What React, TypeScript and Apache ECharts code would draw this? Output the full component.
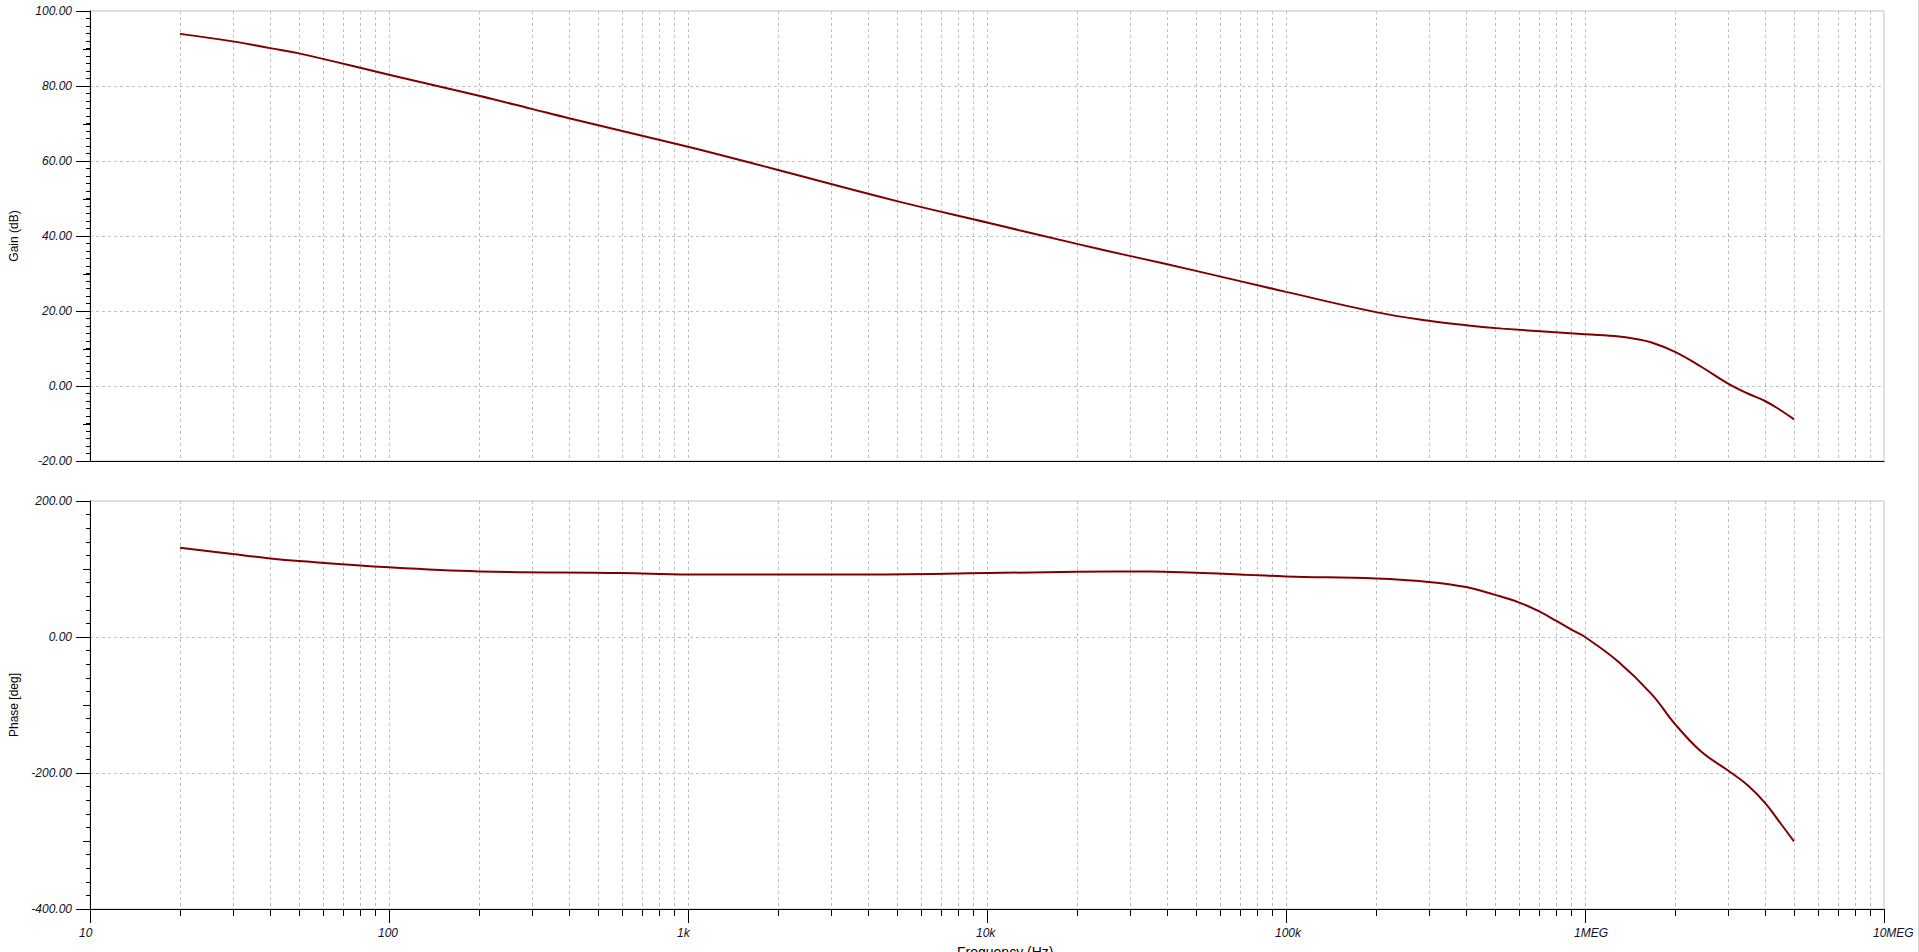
import React, { useEffect, useRef } from "react";
import * as echarts from "echarts";

// ---- data ----
const gainFreq = [20, 30, 40, 50, 100, 200, 300, 400, 1000, 2000, 5000, 10000, 20000, 30000, 50000, 100000, 200000, 300000, 400000, 530000, 1000000, 1300000, 1460000, 1670000, 2000000, 2440000, 3000000, 3500000, 4000000, 4500000, 5000000];
const gainDb = [93.9, 91.9, 90.1, 88.7, 83.0, 77.4, 73.9, 71.4, 63.8, 57.6, 49.3, 43.6, 37.9, 34.7, 30.7, 25.1, 19.7, 17.4, 16.2, 15.3, 13.8, 13.2, 12.6, 11.6, 9.1, 5.2, 0.7, -2.0, -4.0, -6.4, -8.9];

const phaseFreq = [20, 30, 40, 50, 100, 200, 600, 1000, 3600, 10000, 20000, 35000, 50000, 70000, 100000, 200000, 300000, 400000, 500000, 600000, 700000, 800000, 900000, 1000000, 1290000, 1670000, 2000000, 2440000, 3000000, 3500000, 4000000, 4500000, 5000000];
const phaseDeg = [131.3, 122, 115.6, 111.7, 102.4, 96.5, 94.1, 92, 92, 94, 96, 96.5, 94.5, 92, 89, 86, 81, 73.5, 62, 51, 38, 24, 11, 0, -36, -84, -128, -168, -196, -218, -244, -273.5, -300.6];

// tick labels of the frequency axis
const freqTickLabels: Record<number, string> = { 1: "10", 2: "100", 3: "1k", 4: "10k", 5: "100k", 6: "1MEG", 7: "10MEG" };
// minor (sub-decade) grid positions
const decades = [10, 100, 1000, 10000, 100000, 1000000];
const multipliers = [2, 3, 4, 5, 6, 7, 8, 9];
const minorFreqs: number[] = [];
decades.forEach((d) => multipliers.forEach((m) => minorFreqs.push(d * m)));

// mid-length ticks on the value axes
const gainMidTicks = [90, 70, 50, 30, 10, -10];
const phaseMidTicks = [100, -100, -300];

const GRID_COLOR = "#c0c0c0";
const CURVE_COLOR = "#800000";
const FONT = '"Liberation Sans", Arial, sans-serif';

function vGridSeries(idx: number, withTicks: boolean) {
  return {
    type: "custom",
    xAxisIndex: idx,
    yAxisIndex: idx,
    silent: true,
    clip: false,
    z: 1,
    data: minorFreqs.map((f) => [f, 0]),
    encode: { x: 0, y: 1 },
    renderItem: (params: any, api: any) => {
      const cs = params.coordSys;
      const x = Math.round(api.coord([api.value(0), 0])[0]) + 0.5;
      const children: any[] = [
        {
          type: "line",
          shape: { x1: x, y1: cs.y, x2: x, y2: cs.y + cs.height },
          style: { stroke: GRID_COLOR, lineWidth: 1, lineDash: [3, 3] },
        },
      ];
      if (withTicks) {
        children.push({
          type: "line",
          shape: { x1: x, y1: cs.y + cs.height, x2: x, y2: cs.y + cs.height + 7 },
          style: { stroke: "#000", lineWidth: 1 },
        });
      }
      return { type: "group", children };
    },
  };
}

function midTickSeries(idx: number, values: number[]) {
  return {
    type: "custom",
    xAxisIndex: idx,
    yAxisIndex: idx,
    silent: true,
    clip: false,
    z: 5,
    data: values.map((v) => [10, v]),
    encode: { x: 0, y: 1 },
    renderItem: (params: any, api: any) => {
      const cs = params.coordSys;
      const y = Math.round(api.coord([10, api.value(1)])[1]) + 0.5;
      return {
        type: "line",
        shape: { x1: cs.x - 7, y1: y, x2: cs.x, y2: y },
        style: { stroke: "#000", lineWidth: 1 },
      };
    },
  };
}

function yAxisCfg(idx: number, min: number, max: number, interval: number, name: string) {
  return {
    type: "value",
    gridIndex: idx,
    min,
    max,
    interval,
    name,
    nameLocation: "middle",
    nameGap: 70,
    nameTextStyle: { fontFamily: FONT, fontSize: 12, color: "#000" },
    axisLine: { show: true, lineStyle: { color: "#000", width: 1 } },
    axisTick: { show: true, length: 14, lineStyle: { color: "#000" } },
    minorTick: { show: true, splitNumber: 10, length: 4, lineStyle: { color: "#000" } },
    axisLabel: {
      formatter: (v: number) => v.toFixed(2),
      fontFamily: FONT,
      fontStyle: "italic",
      fontSize: 12,
      color: "#10102a",
      margin: 18,
    },
    splitLine: {
      show: true,
      showMinLine: false,
      showMaxLine: false,
      lineStyle: { color: GRID_COLOR, type: [3, 3], width: 1 },
    },
  };
}

function xAxisCfg(idx: number, withLabels: boolean) {
  return {
    type: "log",
    logBase: 10,
    gridIndex: idx,
    min: 10,
    max: 10000000,
    splitNumber: 6,
    axisLine: { show: true, onZero: false, lineStyle: { color: "#000", width: 1 } },
    axisTick: { show: withLabels, length: 14, lineStyle: { color: "#000" } },
    axisLabel: {
      show: withLabels,
      showMinLabel: true,
      showMaxLabel: true,
      formatter: (v: number) => freqTickLabels[Math.round(Math.log10(v))] || "",
      fontFamily: FONT,
      fontStyle: "italic",
      fontSize: 12,
      color: "#10102a",
      margin: 18,
      align: "left",
      padding: [0, 0, 0, -11],
    },
    splitLine: {
      show: true,
      showMinLine: false,
      showMaxLine: false,
      lineStyle: { color: GRID_COLOR, type: [3, 3], width: 1 },
    },
  };
}

export default function App() {
  const ref = useRef<HTMLDivElement>(null);
  useEffect(() => {
    if (!ref.current) return;
    const chart = echarts.init(ref.current, undefined, { renderer: "svg" });
    chart.setOption({
      animation: false,
      backgroundColor: "#ffffff",
      grid: [
        { left: 81, top: 11, right: 35, height: 450, show: true, borderColor: GRID_COLOR, borderWidth: 1, backgroundColor: "transparent" },
        { left: 81, top: 501, right: 35, height: 408, show: true, borderColor: GRID_COLOR, borderWidth: 1, backgroundColor: "transparent" },
      ],
      xAxis: [xAxisCfg(0, false), xAxisCfg(1, true)],
      yAxis: [
        yAxisCfg(0, -20, 100, 20, "Gain (dB)"),
        yAxisCfg(1, -400, 200, 200, "Phase [deg]"),
      ],
      graphic: [
        {
          type: "text",
          left: 957,
          top: 945,
          style: { text: "Frequency (Hz)", font: `14px ${FONT}`, fill: "#000" },
        },
        {
          type: "rect",
          left: 1918,
          top: 0,
          shape: { x: 0, y: 0, width: 1, height: 952 },
          style: { fill: "#d4d4d4" },
        },
      ],
      series: [
        vGridSeries(0, false),
        vGridSeries(1, true),
        midTickSeries(0, gainMidTicks),
        midTickSeries(1, phaseMidTicks),
        {
          type: "line",
          name: "Gain",
          xAxisIndex: 0,
          yAxisIndex: 0,
          data: gainFreq.map((f, i) => [f, gainDb[i]]),
          showSymbol: false,
          smooth: 0.4,
          z: 10,
          lineStyle: { color: CURVE_COLOR, width: 2 },
          itemStyle: { color: CURVE_COLOR },
        },
        {
          type: "line",
          name: "Phase",
          xAxisIndex: 1,
          yAxisIndex: 1,
          data: phaseFreq.map((f, i) => [f, phaseDeg[i]]),
          showSymbol: false,
          smooth: 0.4,
          z: 10,
          lineStyle: { color: CURVE_COLOR, width: 2 },
          itemStyle: { color: CURVE_COLOR },
        },
      ],
    });
    return () => chart.dispose();
  }, []);
  return (
    <div
      ref={ref}
      style={{ position: "absolute", left: 0, top: 0, width: 1919, height: 952, background: "#fff" }}
    />
  );
}
